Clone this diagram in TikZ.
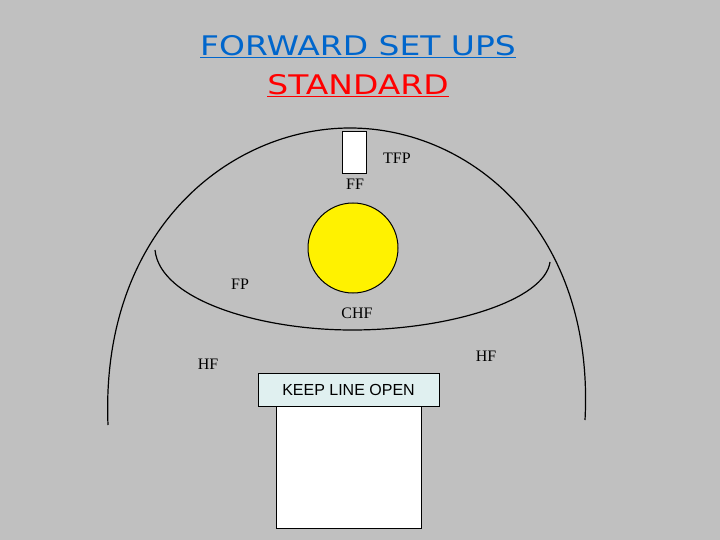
\documentclass[tikz,border=0pt]{standalone}
\usepackage{fontspec}
\setmainfont{Liberation Serif}
\setsansfont{Liberation Sans}
\newfontfamily\titlefont{DejaVu Sans}
\definecolor{bg}{RGB}{192,192,192}
\definecolor{tblue}{RGB}{0,102,204}
\definecolor{kbox}{RGB}{224,240,240}
\begin{document}
\begin{tikzpicture}[x=1pt,y=-1pt,
  lab/.style={font=\fontsize{16}{18}\selectfont},
  ttl/.style={font=\titlefont\fontsize{27}{30}\selectfont,xscale=1.22}]
\fill[bg] (0,0) rectangle (720,540);
\useasboundingbox (0,0) rectangle (720,540);
\node[ttl,text=tblue] (t1) at (358,47) {\underline{FORWARD SET UPS}};
\node[ttl,text=red] (t2) at (358,86) {\underline{STANDARD}};
% big arc
\draw[line width=1.2pt] (108,425) .. controls (100,230) and (230,128) .. (350,128) .. controls (470,128) and (595,230) .. (585,420);
% inner bowl
\draw[line width=1.2pt] (155,250) .. controls (160,300) and (260,330) .. (352,330) .. controls (450,330) and (545,300) .. (550,262);
\node[draw=black,fill=white,line width=1pt,minimum width=24pt,minimum height=42pt,inner sep=0] (tfpbox) at (354,153) {};
\node[lab] (tfp) at (397,158) {TFP};
\node[lab] (ff) at (355,184) {FF};
\node[circle,draw=black,fill=yellow,line width=1pt,minimum size=90pt,inner sep=0] (ball) at (353,248) {};
\node[lab] (fp) at (240,284) {FP};
\node[lab] (chf) at (357,313) {CHF};
\node[lab] (hf1) at (208,364) {HF};
\node[lab] (hf2) at (486,356) {HF};
\node[draw=black,fill=kbox,minimum width=181pt,minimum height=33pt,inner sep=0,font=\sffamily\fontsize{16}{18}\selectfont] (keep) at (348.5,389.5) {KEEP LINE OPEN};
\node[draw=black,fill=white,line width=1pt,minimum width=145pt,minimum height=122pt,inner sep=0] (lane) at (348.5,467) {};
\end{tikzpicture}
\end{document}
